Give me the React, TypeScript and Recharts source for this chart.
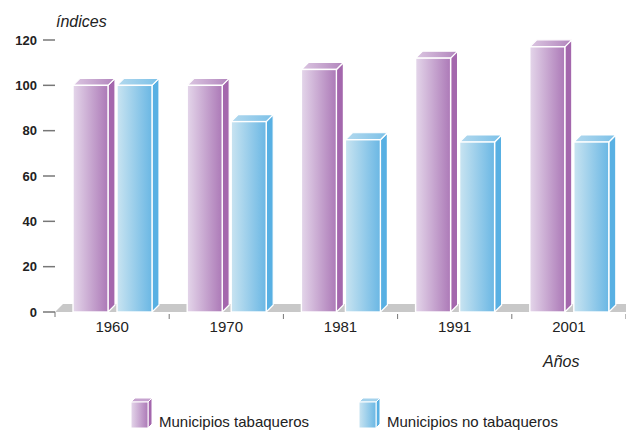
import React from "react";
import { Bar, BarChart, CartesianGrid, XAxis, YAxis } from "recharts";

const years = ["1960", "1970", "1981", "1991", "2001"];
const tabaqueros = [100, 100, 107, 112, 117];
const noTabaqueros = [100, 84, 76, 75, 75];
const yTicks = [0, 20, 40, 60, 80, 100, 120];

const seriesNames = ["Municipios tabaqueros", "Municipios no tabaqueros"];

const data = years.map((year, i) => ({
  year,
  tab: tabaqueros[i],
  noTab: noTabaqueros[i],
}));

const W = 626;
const H = 432;
const MARGIN = { top: 40, right: 0, left: 0, bottom: 90 };
const X_AXIS_H = 30;
const PLOT_BOTTOM = H - MARGIN.bottom - X_AXIS_H;
const DEPTH = 7;
const FONT = '"Liberation Sans", Arial, Helvetica, sans-serif';

const palette = {
  tab: { front: "url(#tabFront)", top: "url(#tabTop)", side: "#a467ad" },
  noTab: { front: "url(#noTabFront)", top: "url(#noTabTop)", side: "#58b0e3" },
};

function Box3D(props: any, colors: { front: string; top: string; side: string }) {
  const { x, y, width, height } = props;
  if (width == null || height == null) return <g />;
  const d = DEPTH;
  const side = `${x + width},${y} ${x + width + d},${y - d} ${x + width + d},${y + height - d} ${x + width},${y + height}`;
  const top = `${x},${y} ${x + d},${y - d} ${x + width + d},${y - d} ${x + width},${y}`;
  return (
    <g>
      <polygon points={side} fill={colors.side} stroke="#fff" strokeWidth={1.2} strokeLinejoin="round" />
      <polygon points={top} fill={colors.top} stroke="#fff" strokeWidth={1.2} strokeLinejoin="round" />
      <rect x={x} y={y} width={width} height={height} fill={colors.front} stroke="#fff" strokeWidth={1.4} />
    </g>
  );
}

function Floor(props: any) {
  const { x1, y1, x2, index } = props;
  if (Math.abs(y1 - PLOT_BOTTOM) > 1) return <g key={`fl-${index}`} />;
  const h = 8;
  return (
    <polygon
      key={`fl-${index}`}
      points={`${x1},${y1} ${x1 + h},${y1 - h} ${x2},${y1 - h} ${x2},${y1}`}
      fill="#c8c8c8"
    />
  );
}

function YearTick(props: any) {
  const { x, y, payload, index } = props;
  const half = payload.offset ?? (W - 55) / years.length / 2;
  return (
    <g>
      {index === 0 && (
        <line x1={x - half} x2={x - half} y1={y} y2={y + 5} stroke="#777" strokeWidth={1} />
      )}
      <line x1={x + half} x2={x + half} y1={y + 2} y2={y + 7} stroke="#777" strokeWidth={1} />
      <text x={x} y={y + 20} textAnchor="middle" fontSize={15} fill="#222" fontFamily={FONT}>
        {payload.value}
      </text>
    </g>
  );
}

function LegendIcon({ x, front, top, side }: { x: number; front: string; top: string; side: string }) {
  const y = 402;
  const w = 17;
  const h = 26;
  const d = 4;
  return (
    <g>
      <polygon
        points={`${x + w},${y} ${x + w + d},${y - d} ${x + w + d},${y + h - d} ${x + w},${y + h}`}
        fill={side}
        stroke="#fff"
        strokeWidth={1}
      />
      <polygon
        points={`${x},${y} ${x + d},${y - d} ${x + w + d},${y - d} ${x + w},${y}`}
        fill={top}
        stroke="#fff"
        strokeWidth={1}
      />
      <rect x={x} y={y} width={w} height={h} fill={front} stroke="#fff" strokeWidth={1} />
    </g>
  );
}

function Gradients() {
  return (
    <defs>
      <linearGradient id="tabFront" x1="0" y1="0" x2="1" y2="0">
        <stop offset="0%" stopColor="#e4d6ea" />
        <stop offset="100%" stopColor="#ac79b7" />
      </linearGradient>
      <linearGradient id="tabTop" x1="0" y1="0" x2="1" y2="0">
        <stop offset="0%" stopColor="#dbc6e1" />
        <stop offset="100%" stopColor="#b285bd" />
      </linearGradient>
      <linearGradient id="noTabFront" x1="0" y1="0" x2="1" y2="0">
        <stop offset="0%" stopColor="#c9e4f1" />
        <stop offset="100%" stopColor="#6ab7e4" />
      </linearGradient>
      <linearGradient id="noTabTop" x1="0" y1="0" x2="1" y2="0">
        <stop offset="0%" stopColor="#b3d9ee" />
        <stop offset="100%" stopColor="#7cc1e8" />
      </linearGradient>
    </defs>
  );
}

export default function App() {
  return (
    <div style={{ position: "absolute", left: 0, top: 0, width: W, height: H, background: "#fff" }}>
      <BarChart width={W} height={H} data={data} margin={MARGIN} barSize={35} barGap={9}>
        <Gradients />
        <CartesianGrid vertical={false} horizontal={Floor} />
        <XAxis
          dataKey="year"
          height={X_AXIS_H}
          axisLine={false}
          tickLine={false}
          tickSize={0}
          tickMargin={0}
          interval={0}
          tick={YearTick}
        />
        <YAxis
          domain={[0, 120]}
          ticks={yTicks}
          width={55}
          axisLine={false}
          tickSize={12}
          tickMargin={6}
          tickLine={{ stroke: "#777", strokeWidth: 1.5 }}
          tick={{ fontSize: 13, fontWeight: "bold", fill: "#222", fontFamily: FONT }}
        />
        <Bar dataKey="tab" isAnimationActive={false} shape={(p: any) => Box3D(p, palette.tab)} />
        <Bar dataKey="noTab" isAnimationActive={false} shape={(p: any) => Box3D(p, palette.noTab)} />
      </BarChart>
      <svg
        width={W}
        height={H}
        style={{ position: "absolute", left: 0, top: 0, pointerEvents: "none" }}
      >
        <defs>
          <linearGradient id="lgTab" x1="0" y1="0" x2="1" y2="0">
            <stop offset="0%" stopColor="#e4d6ea" />
            <stop offset="100%" stopColor="#ac79b7" />
          </linearGradient>
          <linearGradient id="lgNoTab" x1="0" y1="0" x2="1" y2="0">
            <stop offset="0%" stopColor="#c9e4f1" />
            <stop offset="100%" stopColor="#6ab7e4" />
          </linearGradient>
        </defs>
        <text x={56} y={27} fontSize={16} fontStyle="italic" fill="#222" fontFamily={FONT}>
          índices
        </text>
        <text x={543} y={367} fontSize={16} fontStyle="italic" fill="#222" fontFamily={FONT}>
          Años
        </text>
        <LegendIcon x={131} front="url(#lgTab)" top="#c6a3cf" side={palette.tab.side} />
        <text x={159} y={427} fontSize={15} fill="#222" fontFamily={FONT}>
          {seriesNames[0]}
        </text>
        <LegendIcon x={359} front="url(#lgNoTab)" top="#a4d2ec" side={palette.noTab.side} />
        <text x={387} y={427} fontSize={15} fill="#222" fontFamily={FONT}>
          {seriesNames[1]}
        </text>
      </svg>
    </div>
  );
}
